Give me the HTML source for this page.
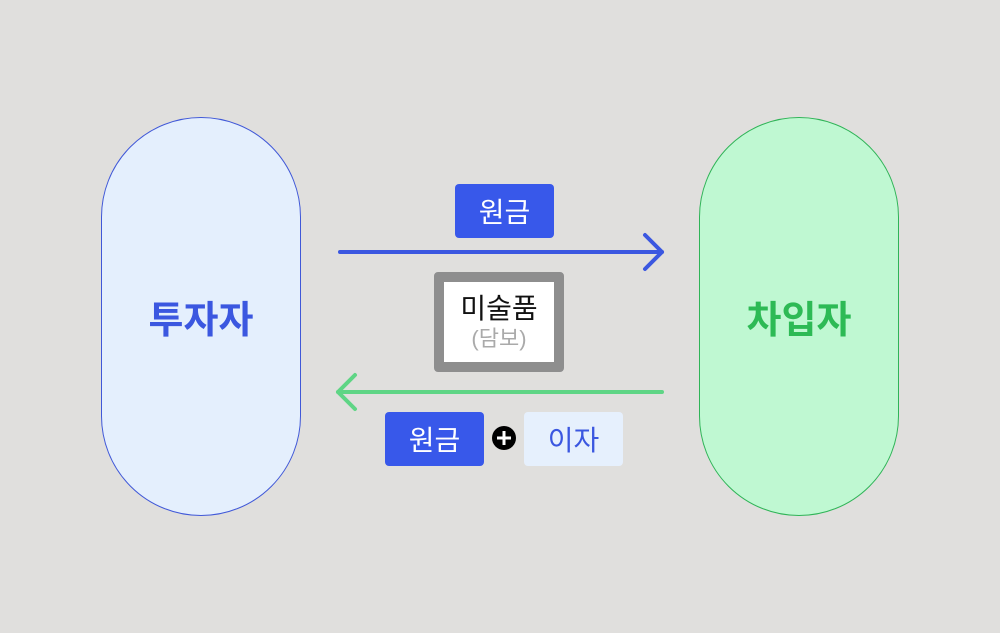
<!DOCTYPE html>
<html><head><meta charset="utf-8"><style>
html,body{margin:0;padding:0}
body{width:1000px;height:633px;background:#e0dfdd;position:relative;overflow:hidden;font-family:"Liberation Sans","Noto Sans CJK KR",sans-serif}
.a{position:absolute;box-sizing:border-box}
.pill{width:200px;height:399px;border-radius:100px;top:117px;display:flex;align-items:center;justify-content:center;font-size:38px;font-weight:bold}
.tag{height:54px;width:99px;border-radius:4px;display:flex;align-items:center;justify-content:center;font-size:28px}
</style></head><body>
<div class="a pill" style="left:101px;background:#e4effd;border:1px solid #4058d8;color:#3b57e0">투자자</div>
<div class="a pill" style="left:699px;background:#bff8d2;border:1px solid #2fb457;color:#2dba55">차입자</div>
<div class="a tag" style="left:455px;top:184px;background:#3858ea;color:#fff">원금</div>
<div class="a tag" style="left:385px;top:412px;background:#3858ea;color:#fff">원금</div>
<div class="a tag" style="left:524px;top:412px;background:#e6f0fd;color:#3b57e0">이자</div>
<div class="a" style="left:434px;top:272px;width:130px;height:100px;background:#fff;border:10px solid #8e8e8e;border-radius:4px;text-align:center">
<div style="font-size:28px;color:#111;margin-top:10px;line-height:34px">미술품</div>
<div style="font-size:22px;color:#aaa;line-height:26px">(담보)</div></div>
<svg class="a" style="left:0;top:0" width="1000" height="633">
<g fill="none" stroke-linecap="round" stroke-linejoin="round" stroke-width="4">
<line x1="340" y1="252" x2="662" y2="252" stroke="#3b57e0"/>
<polyline points="645,235 662,252 645,269" stroke="#3b57e0"/>
<line x1="338" y1="392" x2="662" y2="392" stroke="#5fd585"/>
<polyline points="355,375 338,392 355,409" stroke="#5fd585"/>
</g>
<circle cx="504" cy="438" r="12" fill="#000"/>
<path d="M497 438H511M504 431V445" stroke="#fff" stroke-width="3"/>
</svg>
</body></html>
